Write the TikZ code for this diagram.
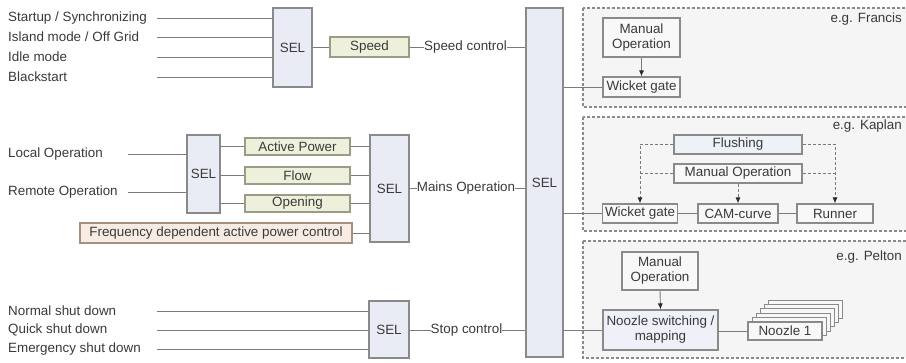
\documentclass[tikz,border=0pt]{standalone}
\usepackage{fontspec}
\setmainfont{Liberation Sans}
\usetikzlibrary{arrows.meta}
\definecolor{txt}{HTML}{3A3A3A}
\definecolor{ln}{HTML}{7A7A7A}
\definecolor{bd}{HTML}{8A8A8A}
\definecolor{selfill}{HTML}{E9ECF5}
\definecolor{grfill}{HTML}{EEF0DC}
\definecolor{grbd}{HTML}{9A9C88}
\definecolor{frfill}{HTML}{F7ECE3}
\definecolor{frbd}{HTML}{A8907E}
\definecolor{regfill}{HTML}{F5F5F5}
\definecolor{boxfill}{HTML}{F8F8F8}
\definecolor{bluefill}{HTML}{EEF1F8}
\definecolor{tipc}{HTML}{2A2A2A}
\begin{document}
\begin{tikzpicture}[x=1pt,y=-1pt,
  every node/.style={font=\fontsize{13.4}{15}\selectfont, text=txt},
  sizebox/.style 2 args={minimum width=#1pt, minimum height=#2pt, inner sep=0pt, align=center},
  selbox/.style={draw=bd, line width=1.1pt, fill=selfill},
  grbox/.style={draw=grbd, line width=1.1pt, fill=grfill},
  frbox/.style={draw=frbd, line width=1.1pt, fill=frfill},
  wbox/.style={draw=bd, line width=1.1pt, fill=boxfill},
  bbox/.style={draw=bd, line width=1.1pt, fill=bluefill},
  region/.style={draw=bd, line width=1.2pt, dash pattern=on 3pt off 2pt, fill=regfill},
  conn/.style={draw=ln, line width=0.9pt},
  dconn/.style={draw=ln, line width=0.9pt, dash pattern=on 3pt off 2pt},
  tip/.style={-{Latex[length=6pt,width=5pt,color=tipc]}},
  lbl/.style={anchor=west, inner sep=0pt},
  eglbl/.style={anchor=east, inner sep=0pt},
]
\useasboundingbox[fill=white] (0,0) rectangle (906,363);
\clip (0,0) rectangle (906,363);

% ---------- regions ----------
\path[region] (583,8) rectangle (960,107);
\path[region] (583,117) rectangle (960,231);
\path[region] (583,241) rectangle (960,358);
\node[eglbl] (egF) at (902,19) {e.g. Francis};
\node[eglbl] (egK) at (902,126) {e.g. Kaplan};
\node[eglbl] (egP) at (902,257) {e.g. Pelton};

% ---------- top group ----------
\node[lbl] (in1) at (8,18) {Startup / Synchronizing};
\node[lbl] (in2) at (8,37) {Island mode / Off Grid};
\node[lbl] (in3) at (8,57) {Idle mode};
\node[lbl] (in4) at (8,77) {Blackstart};
\coordinate (xa) at (157,0);
\node[selbox, sizebox={39}{79}] (sel1) at (292.5,47.5) {SEL};
\node[grbox, sizebox={79}{20}] (speed) at (369.5,47) {Speed};
\node[inner sep=0pt] (speedlbl) at (465.5,47) {Speed control};
\node[selbox, sizebox={37}{349}] (bigsel) at (544.5,182.5) {SEL};
\foreach \n in {in1,in2,in3,in4}{
  \draw[conn] (xa |- \n) -- (sel1.west |- \n);
}
\draw[conn] (sel1.east |- speed) -- (speed.west);
\draw[conn] (speed.east) -- (speedlbl.west);
\draw[conn] (speedlbl.east) -- (bigsel.west |- speedlbl);

% ---------- middle group ----------
\node[lbl] (loc) at (8,154) {Local Operation};
\node[lbl] (rem) at (8,192) {Remote Operation};
\coordinate (xb) at (128,0);
\node[selbox, sizebox={33}{78}] (sel2) at (203.5,174) {SEL};
\node[grbox, sizebox={105}{17}] (act) at (297.5,146.5) {Active Power};
\node[grbox, sizebox={105}{17}] (flow) at (297.5,175.5) {Flow};
\node[grbox, sizebox={105}{17}] (open) at (297.5,203.5) {Opening};
\node[frbox, sizebox={272}{20}] (freq) at (216,233) {Frequency dependent active power control};
\node[selbox, sizebox={39}{107}] (sel3) at (389.5,188.5) {SEL};
\node[inner sep=0pt] (mainslbl) at (466,188) {Mains Operation};
\draw[conn] (xb |- loc) -- (sel2.west |- loc);
\draw[conn] (xb |- rem) -- (sel2.west |- rem);
\foreach \n in {act,flow,open}{
  \draw[conn] (sel2.east |- \n) -- (\n.west);
  \draw[conn] (\n.east) -- (sel3.west |- \n);
}
\draw[conn] (freq.east) -- (sel3.west |- freq);
\draw[conn] (sel3.east |- mainslbl) -- (mainslbl.west);
\draw[conn] (mainslbl.east) -- (bigsel.west |- mainslbl);

% ---------- bottom group ----------
\node[lbl] (sd1) at (8,311) {Normal shut down};
\node[lbl] (sd2) at (8,330) {Quick shut down};
\node[lbl] (sd3) at (8,349) {Emergency shut down};
\coordinate (xc) at (157,0);
\node[selbox, sizebox={40}{57}] (sel4) at (389,329.5) {SEL};
\node[inner sep=0pt] (stoplbl) at (466.5,330) {Stop control};
\foreach \n in {sd1,sd2,sd3}{
  \draw[conn] (xc |- \n) -- (sel4.west |- \n);
}
\draw[conn] (sel4.east |- stoplbl) -- (stoplbl.west);
\draw[conn] (stoplbl.east) -- (bigsel.west |- stoplbl);

% ---------- Francis ----------
\node[wbox, sizebox={77}{39}] (manF) at (641.5,37.5) {Manual\\Operation};
\node[wbox, sizebox={77}{20}] (wickF) at (641.5,87) {Wicket gate};
\draw[conn,tip] (manF.south) -- (wickF.north);
\draw[conn] (bigsel.east |- wickF) -- (wickF.west);

% ---------- Kaplan ----------
\node[bbox, sizebox={128}{19}] (flush) at (738,144.5) {Flushing};
\node[wbox, sizebox={128}{19}] (manK) at (738,173.5) {Manual Operation};
\node[wbox, sizebox={75}{19}] (wickK) at (640,213.5) {Wicket gate};
\node[wbox, sizebox={80}{19}] (cam) at (738,213.5) {CAM-curve};
\node[wbox, sizebox={76}{19}] (runner) at (835,213.5) {Runner};
\draw[conn] (bigsel.east |- wickK) -- (wickK.west);
\draw[conn] (wickK.east) -- (cam.west);
\draw[conn] (cam.east) -- (runner.west);
\draw[dconn,tip] (flush.west) -| (wickK.north);
\draw[dconn] (manK.west) -- (manK.west -| wickK.north);
\draw[dconn,tip] (flush.east) -| (runner.north);
\draw[dconn] (manK.east) -- (manK.east -| runner.north);
\draw[dconn,tip] (manK.south) -- (cam.north);

% ---------- Pelton ----------
\node[wbox, sizebox={76}{38}] (manP) at (660,271) {Manual\\Operation};
\node[bbox, sizebox={115}{40}] (nsw) at (660.5,330) {Noozle switching /\\mapping};
\foreach \i in {5,4,3,2,1}{
  \draw[draw=bd, line width=0.9pt, fill=boxfill] ({748+4*\i},{322-4.4*\i}) rectangle ({822+4*\i},{340-4.4*\i});
}
\node[wbox, sizebox={74}{18}] (noz) at (785,331) {Noozle 1};
\draw[conn,tip] (manP.south) -- (nsw.north);
\draw[conn] (bigsel.east |- nsw) -- (nsw.west);
\draw[conn] (nsw.east |- noz) -- (noz.west);
\end{tikzpicture}
\end{document}
